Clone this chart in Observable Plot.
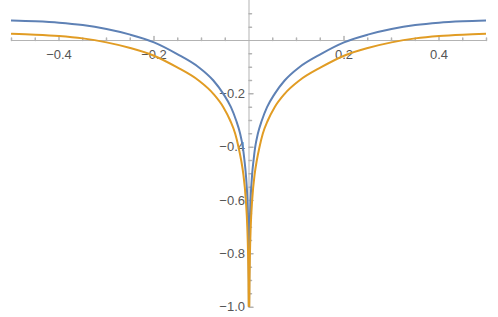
<!DOCTYPE html>
<html>
<head>
<meta charset="utf-8">
<script src="https://cdn.jsdelivr.net/npm/d3@7"></script>
<script src="https://cdn.jsdelivr.net/npm/@observablehq/plot@0.6"></script>
<style>
  html, body { margin: 0; padding: 0; background: #fff; }
  #chart svg { display: block; }
</style>
</head>
<body>
<div id="chart"></div>
<script>
// |x| sample positions and values (curves are mirror-symmetric about x = 0)
const blueX   = [0, 0.00018, 0.0004, 0.0008, 0.0016, 0.0033, 0.0067, 0.0095, 0.013, 0.0186, 0.027, 0.038, 0.054, 0.075, 0.106, 0.152, 0.2, 0.25, 0.3, 0.35, 0.4, 0.45, 0.5];
const blueY   = [-1, -1.0, -0.9, -0.8, -0.7, -0.6, -0.5, -0.45, -0.40, -0.35, -0.30, -0.25, -0.20, -0.15, -0.10, -0.05, -0.007, 0.022, 0.043, 0.058, 0.067, 0.072, 0.075];
const orangeX = [0, 0.0006, 0.0011, 0.002, 0.0036, 0.0066, 0.012, 0.0164, 0.022, 0.029, 0.0396, 0.054, 0.075, 0.106, 0.152, 0.2, 0.25, 0.3, 0.35, 0.4, 0.45, 0.5];
const orangeY = [-1, -1.0, -0.9, -0.8, -0.7, -0.6, -0.5, -0.45, -0.40, -0.35, -0.30, -0.25, -0.20, -0.15, -0.10, -0.057, -0.028, -0.007, 0.008, 0.017, 0.022, 0.025];
const seriesNames = ["f1", "f2"];
const seriesColors = ["#5e81b5", "#e19c24"];

const xTicksMajor = [-0.4, -0.2, 0.2, 0.4];
const xTickLabels = ["\u22120.4", "\u22120.2", "0.2", "0.4"];
const xTicksMinor = [-0.5, -0.45, -0.35, -0.3, -0.25, -0.15, -0.1, -0.05, 0.05, 0.1, 0.15, 0.25, 0.3, 0.35, 0.45, 0.5];
const yTicksMajor = [-1.0, -0.8, -0.6, -0.4, -0.2];
const yTickLabels = ["\u22121.0", "\u22120.8", "\u22120.6", "\u22120.4", "\u22120.2"];
const yTicksMinor = [-0.95, -0.9, -0.85, -0.75, -0.7, -0.65, -0.55, -0.5, -0.45, -0.35, -0.3, -0.25, -0.15, -0.1, -0.05, 0.05, 0.1];

// build table: both mirrored halves of each series
const rows = [];
[[blueX, blueY], [orangeX, orangeY]].forEach(([xs, ys], si) => {
  for (const side of [-1, 1]) {
    xs.forEach((ax, i) => {
      rows.push({series: seriesNames[si], key: seriesNames[si] + (side < 0 ? "L" : "R"), x: side * ax, y: ys[i]});
    });
  }
});

const axisColor = "#b3b3b3";
const labelColor = "#555555";
const flatTick = {draw(context, l) { context.moveTo(0, 0); context.lineTo(0, -l); }};

const chart = Plot.plot({
  width: 498,
  height: 317,
  marginTop: 0,
  marginBottom: 10.3,
  marginLeft: 11,
  marginRight: 12,
  x: {domain: [-0.5, 0.5], axis: null},
  y: {domain: [-1, 0.15], axis: null},
  color: {domain: seriesNames, range: seriesColors},
  style: {fontFamily: "'Liberation Sans', Arial, sans-serif", fontSize: "13px", background: "#fff"},
  marks: [
    Plot.ruleY([0], {stroke: axisColor, strokeWidth: 1}),
    Plot.ruleX([0], {stroke: axisColor, strokeWidth: 1}),
    // x ticks (pointing up from the axis)
    Plot.vector(xTicksMajor, {x: d => d, y: 0, length: 4, rotate: 0, anchor: "start", shape: flatTick, stroke: axisColor}),
    Plot.vector(xTicksMinor, {x: d => d, y: 0, length: 2.5, rotate: 0, anchor: "start", shape: flatTick, stroke: axisColor}),
    // y ticks (pointing right from the axis)
    Plot.vector(yTicksMajor, {x: 0, y: d => d, length: 4, rotate: 90, anchor: "start", shape: flatTick, stroke: axisColor}),
    Plot.vector(yTicksMinor, {x: 0, y: d => d, length: 2.5, rotate: 90, anchor: "start", shape: flatTick, stroke: axisColor}),
    // tick labels
    Plot.text(xTicksMajor, {x: d => d, y: 0, dy: 14, text: (d, i) => xTickLabels[i], fill: labelColor, fontSize: 13}),
    Plot.text(yTicksMajor, {x: 0, y: d => d, dx: -4, textAnchor: "end", text: (d, i) => yTickLabels[i], fill: labelColor, fontSize: 13}),
    // curves
    Plot.line(rows, {x: "x", y: "y", z: "key", stroke: "series", strokeWidth: 2, curve: "monotone-x", clip: true})
  ]
});
document.getElementById("chart").appendChild(chart);
</script>
</body>
</html>
